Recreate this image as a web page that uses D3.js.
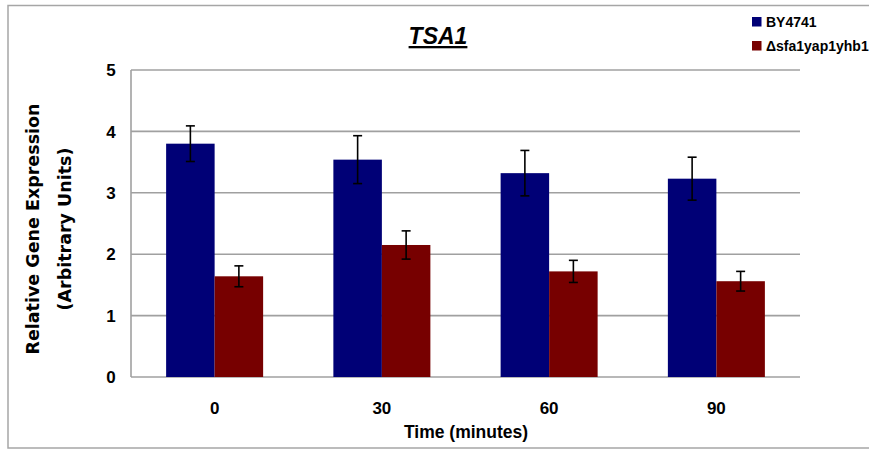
<!DOCTYPE html>
<html>
<head>
<meta charset="utf-8">
<script src="https://cdn.jsdelivr.net/npm/d3@7"></script>
<style>
  body { margin: 0; background: #fff; }
  svg { display: block; }
  .cal { font-family: "Liberation Sans Narrow", "Liberation Sans", Arial, sans-serif; font-weight: bold; }
</style>
</head>
<body>
<div id="chart"></div>
<script>
var categories = ["0", "30", "60", "90"];
var seriesNames = ["BY4741", "\u0394sfa1yap1yhb1"];
var by4741 = [3.80, 3.54, 3.32, 3.23];
var by4741Err = [0.29, 0.39, 0.37, 0.35];
var mutant = [1.64, 2.15, 1.72, 1.56];
var mutantErr = [0.17, 0.23, 0.18, 0.16];
var yTicks = [0, 1, 2, 3, 4, 5];
var colors = ["#000076", "#770000"];

const width = 869, height = 449;
const plotLeft = 131, plotRight = 800, plotTop = 70, plotBottom = 377;

const svg = d3.select("#chart").append("svg")
    .attr("width", width)
    .attr("height", height);

// outer frame
svg.append("rect")
    .attr("x", 8).attr("y", 5.5)
    .attr("width", 900).attr("height", 442.5)
    .attr("fill", "none")
    .attr("stroke", "#a6a6a6")
    .attr("stroke-width", 1.5);

const x = d3.scaleBand().domain(categories).range([plotLeft, plotRight])
    .paddingInner(0.42).paddingOuter(0.21);
const xs = d3.scaleBand().domain([0, 1]).range([0, x.bandwidth()]);
const y = d3.scaleLinear().domain([0, 5]).range([plotBottom, plotTop]);

// gridlines
svg.append("g").selectAll("line")
    .data(yTicks)
    .join("line")
    .attr("x1", plotLeft).attr("x2", plotRight)
    .attr("y1", d => y(d)).attr("y2", d => y(d))
    .attr("stroke", "#a0a0a0")
    .attr("stroke-width", 1.6);

// y axis line
svg.append("line")
    .attr("x1", plotLeft).attr("x2", plotLeft)
    .attr("y1", y(5)).attr("y2", y(0))
    .attr("stroke", "#a0a0a0").attr("stroke-width", 1.6);

// y tick labels
svg.append("g").selectAll("text")
    .data(yTicks)
    .join("text")
    .attr("class", "cal")
    .attr("x", 111).attr("y", d => y(d))
    .attr("dy", "0.36em")
    .attr("text-anchor", "middle")
    .attr("font-size", 17)
    .text(d => d);

// bars
const series = [
    {vals: by4741, errs: by4741Err},
    {vals: mutant, errs: mutantErr}
];

series.forEach(function(s, si) {
    const g = svg.append("g");
    g.selectAll("rect")
        .data(categories)
        .join("rect")
        .attr("x", c => x(c) + xs(si))
        .attr("y", (c, i) => y(s.vals[i]))
        .attr("width", xs.bandwidth())
        .attr("height", (c, i) => y(0) - y(s.vals[i]))
        .attr("fill", colors[si]);

    // error bars
    const eb = svg.append("g").attr("stroke", "#000").attr("stroke-width", 1.6);
    categories.forEach(function(c, i) {
        const cx = x(c) + xs(si) + xs.bandwidth() / 2;
        const y1 = y(s.vals[i] + s.errs[i]);
        const y2 = y(s.vals[i] - s.errs[i]);
        eb.append("line").attr("x1", cx).attr("x2", cx).attr("y1", y1).attr("y2", y2);
        eb.append("line").attr("x1", cx - 4.5).attr("x2", cx + 4.5).attr("y1", y1).attr("y2", y1);
        eb.append("line").attr("x1", cx - 4.5).attr("x2", cx + 4.5).attr("y1", y2).attr("y2", y2);
    });
});

// x tick labels
svg.append("g").selectAll("text")
    .data(categories)
    .join("text")
    .attr("class", "cal")
    .attr("x", c => x(c) + x.bandwidth() / 2)
    .attr("y", 408)
    .attr("dy", "0.36em")
    .attr("text-anchor", "middle")
    .attr("font-size", 17)
    .text(c => c);

// x axis title
svg.append("text")
    .attr("class", "cal")
    .attr("x", 466).attr("y", 432)
    .attr("dy", "0.36em")
    .attr("text-anchor", "middle")
    .attr("font-size", 17.5)
    .text("Time (minutes)");

// y axis title
const yt = svg.append("text")
    .attr("transform", "translate(0,229) rotate(-90)")
    .attr("text-anchor", "middle")
    .attr("font-family", "DejaVu Sans, Verdana, sans-serif")
    .attr("font-weight", "bold")
    .attr("font-size", 17.5);
yt.append("tspan").attr("x", 0).attr("y", 39).text("Relative Gene Expression");
yt.append("tspan").attr("x", 0).attr("y", 71).text("(Arbitrary Units)");

// title
svg.append("text")
    .attr("class", "cal")
    .attr("x", 438).attr("y", 44)
    .attr("text-anchor", "middle")
    .attr("font-size", 23)
    .attr("font-style", "italic")
    .attr("text-decoration", "underline")
    .text("TSA1");

// legend
const lg = svg.append("g").selectAll("g")
    .data(seriesNames)
    .join("g")
    .attr("transform", (d, i) => "translate(752," + (17 + i * 24) + ")");
lg.append("rect")
    .attr("width", 9.5).attr("height", 9.5)
    .attr("fill", (d, i) => colors[i]);
lg.append("text")
    .attr("class", "cal")
    .attr("x", 14).attr("y", 9.5)
    .attr("font-size", 14)
    .text(d => d);
</script>
</body>
</html>
